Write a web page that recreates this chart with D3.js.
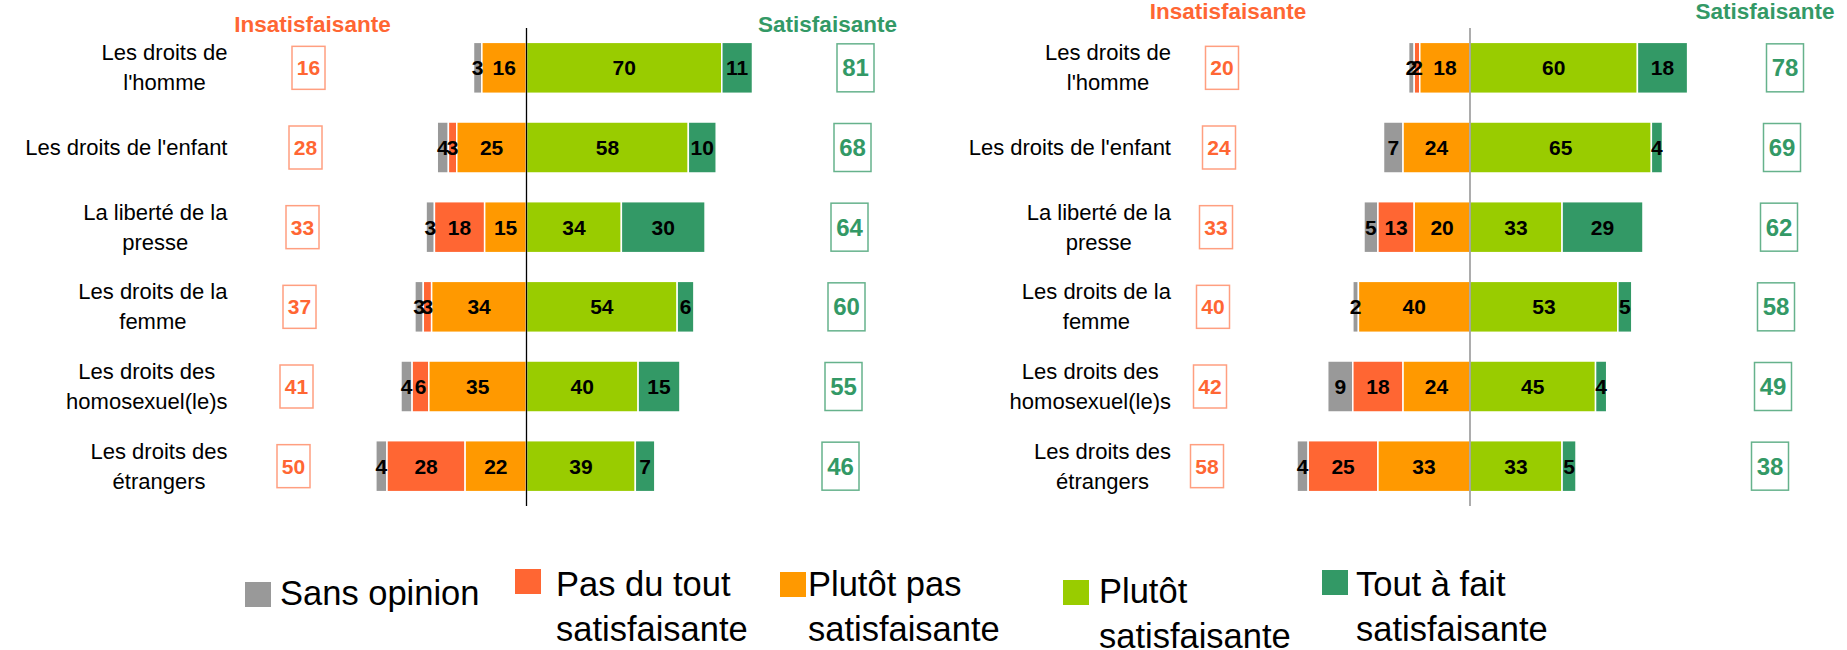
<!DOCTYPE html>
<html>
<head>
<meta charset="utf-8">
<script src="https://cdn.jsdelivr.net/npm/d3@7"></script>
<style>
  body { margin: 0; background: #fff; }
  svg { font-family: "Liberation Sans", Arial, sans-serif; }
</style>
</head>
<body>
<div id="chart"></div>
<script>
// Categories (wrapped as in the original)
var categories = [
  ["Les droits de", "l'homme"],
  ["Les droits de l'enfant"],
  ["La liberté de la", "presse"],
  ["Les droits de la", "femme"],
  ["Les droits des", "homosexuel(le)s"],
  ["Les droits des", "étrangers"]
];

var seriesNames = ["Sans opinion", "Pas du tout satisfaisante", "Plutôt pas satisfaisante",
                   "Plutôt satisfaisante", "Tout à fait satisfaisante"];
var legendLines = [["Sans opinion"], ["Pas du tout", "satisfaisante"], ["Plutôt pas", "satisfaisante"],
                   ["Plutôt", "satisfaisante"], ["Tout à fait", "satisfaisante"]];
var colors = ["#999999", "#FF6633", "#FF9900", "#99CC00", "#339966"];

// left panel
var leftSansOpinion = [3, 4, 3, 3, 4, 4];
var leftPasDuTout   = [0, 3, 18, 3, 6, 28];
var leftPlutotPas   = [16, 25, 15, 34, 35, 22];
var leftPlutot      = [70, 58, 34, 54, 40, 39];
var leftToutAFait   = [11, 10, 30, 6, 15, 7];
var leftInsat       = [16, 28, 33, 37, 41, 50];
var leftSat         = [81, 68, 64, 60, 55, 46];

// right panel
var rightSansOpinion = [2, 7, 5, 2, 9, 4];
var rightPasDuTout   = [2, 0, 13, 0, 18, 25];
var rightPlutotPas   = [18, 24, 20, 40, 24, 33];
var rightPlutot      = [60, 65, 33, 53, 45, 33];
var rightToutAFait   = [18, 4, 29, 5, 4, 5];
var rightInsat       = [20, 24, 33, 40, 42, 58];
var rightSat         = [78, 69, 62, 58, 49, 38];

var W = 1847, H = 650;
var svg = d3.select("#chart").append("svg").attr("width", W).attr("height", H);

var y = d3.scaleBand().domain(d3.range(categories.length))
  .range([28, 506]).paddingInner(0.36).paddingOuter(0.18);

/////////////////// Panels ///////////////////

function drawPanel(p) {
  var g = svg.append("g");
  var x = d3.scaleLinear().domain([-100, 100]).range([p.center - 279, p.center + 279]);

  // segments: negatives go left from the center, outermost is sans opinion
  var rows = [];
  for (var i = 0; i < categories.length; i++) {
    var segs = [];
    var neg = [p.sans[i], p.pas[i], p.plutotPas[i]];
    var left = -(neg[0] + neg[1] + neg[2]);
    for (var k = 0; k < 3; k++) {
      segs.push({row: i, s: k, x0: left, x1: left + neg[k], v: neg[k]});
      left += neg[k];
    }
    var pos = [p.plutot[i], p.tout[i]];
    var right = 0;
    for (var k2 = 0; k2 < 2; k2++) {
      segs.push({row: i, s: k2 + 3, x0: right, x1: right + pos[k2], v: pos[k2]});
      right += pos[k2];
    }
    rows = rows.concat(segs);
  }
  rows = rows.filter(function(d) { return d.v > 0; });

  g.selectAll("rect.seg").data(rows).enter().append("rect")
    .attr("class", "seg")
    .attr("x", function(d) { return x(d.x0); })
    .attr("width", function(d) { return x(d.x1) - x(d.x0); })
    .attr("y", function(d) { return y(d.row); })
    .attr("height", y.bandwidth())
    .attr("fill", function(d) { return colors[d.s]; })
    .attr("stroke", "#fff").attr("stroke-width", 1.5);

  // center line
  g.append("line")
    .attr("x1", x(0)).attr("x2", x(0)).attr("y1", 28).attr("y2", 506)
    .attr("stroke", p.lineColor).attr("stroke-width", 1.3);

  g.selectAll("text.val").data(rows).enter().append("text")
    .attr("class", "val")
    .attr("x", function(d) { return (x(d.x0) + x(d.x1)) / 2; })
    .attr("y", function(d) { return y(d.row) + y.bandwidth() / 2 + 7.5; })
    .attr("text-anchor", "middle")
    .attr("font-size", 21).attr("font-weight", "bold").attr("fill", "#000")
    .text(function(d) { return d.v; });

  // category labels: block right aligned, lines centered
  categories.forEach(function(lines, i) {
    var t = g.append("text").attr("font-size", 22).attr("fill", "#000").attr("text-anchor", "middle");
    var cy = y(i) + y.bandwidth() / 2;
    var top = cy - (lines.length - 1) * 30 / 2 + 7.5;
    lines.forEach(function(l, j) {
      t.append("tspan").attr("y", top + j * 30).text(l);
    });
    var w = 0;
    t.selectAll("tspan").each(function() { w = Math.max(w, this.getComputedTextLength()); });
    t.selectAll("tspan").attr("x", x(0) - 299 - w / 2);
  });

  // totals in boxes
  function boxes(vals, off, bw, bh, fs, col, stroke) {
    vals.forEach(function(v, i) {
      var cx = x(0) + off - 3 * i;
      var cy = y(i) + y.bandwidth() / 2;
      g.append("rect")
        .attr("x", cx - bw / 2).attr("y", cy - bh / 2)
        .attr("width", bw).attr("height", bh)
        .attr("fill", "#fff").attr("stroke", stroke).attr("stroke-width", 1.5);
      g.append("text")
        .attr("x", cx).attr("y", cy + fs * 0.36)
        .attr("text-anchor", "middle").attr("font-size", fs).attr("font-weight", "bold")
        .attr("fill", col).text(v);
    });
  }
  boxes(p.insat, p.insatOff, 33, 43, 21, "#FF6633", "#FF9F80");
  boxes(p.sat, p.satOff, 37, 48, 24, "#339966", "#66B28C");

  // headers
  g.append("text").attr("x", p.center + p.insatHead).attr("y", p.headY)
    .attr("text-anchor", "middle").attr("font-size", 22.5).attr("font-weight", "bold")
    .attr("fill", "#FF6633").text("Insatisfaisante");
  g.append("text").attr("x", p.center + p.satHead).attr("y", p.headY)
    .attr("text-anchor", "middle").attr("font-size", 22.5).attr("font-weight", "bold")
    .attr("fill", "#339966").text("Satisfaisante");
}

drawPanel({
  center: 526.5, lineColor: "#000",
  sans: leftSansOpinion, pas: leftPasDuTout, plutotPas: leftPlutotPas,
  plutot: leftPlutot, tout: leftToutAFait, insat: leftInsat, sat: leftSat,
  insatOff: -218, satOff: 329, insatHead: -214, satHead: 301, headY: 32
});
drawPanel({
  center: 1470, lineColor: "#808080",
  sans: rightSansOpinion, pas: rightPasDuTout, plutotPas: rightPlutotPas,
  plutot: rightPlutot, tout: rightToutAFait, insat: rightInsat, sat: rightSat,
  insatOff: -248, satOff: 315, insatHead: -242, satHead: 295, headY: 19
});

/////////////////// Legend ///////////////////
var legendPos = [
  {sx: 245, sy: 582, tx: 280, ty: 605},
  {sx: 515, sy: 569, tx: 556, ty: 596},
  {sx: 780, sy: 572, tx: 808, ty: 596},
  {sx: 1063, sy: 580, tx: 1099, ty: 603},
  {sx: 1322, sy: 570, tx: 1356, ty: 596}
];
seriesNames.forEach(function(name, i) {
  var lp = legendPos[i];
  svg.append("rect").attr("x", lp.sx).attr("y", lp.sy).attr("width", 26).attr("height", 25)
    .attr("fill", colors[i]);
  var t = svg.append("text").attr("font-size", 34.5).attr("fill", "#000");
  legendLines[i].forEach(function(l, j) {
    t.append("tspan").attr("x", lp.tx).attr("y", lp.ty + j * 45).text(l);
  });
});
</script>
</body>
</html>
